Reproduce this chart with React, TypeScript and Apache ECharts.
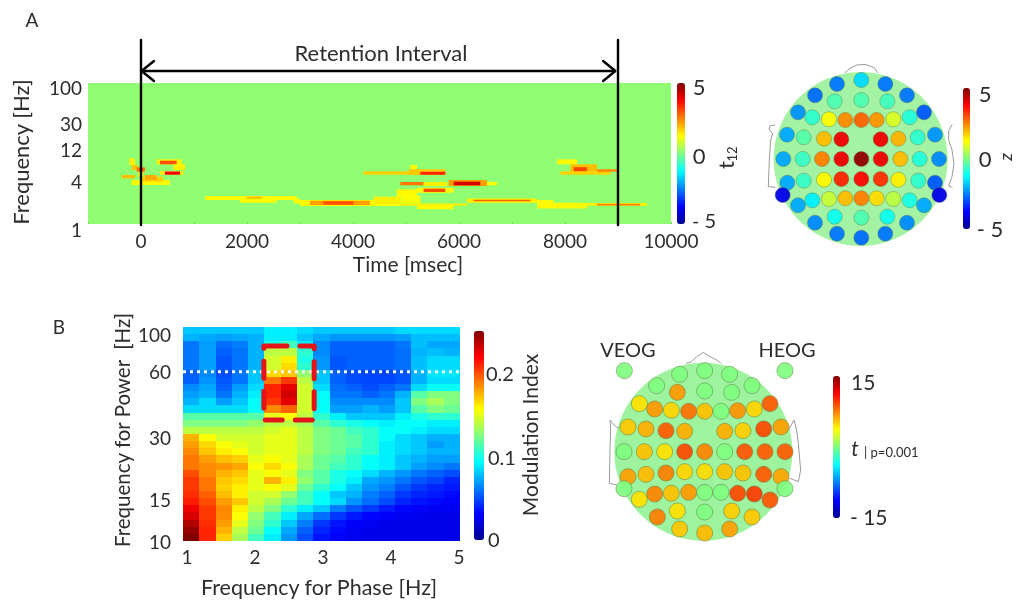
import React, { useEffect, useRef } from "react";
import * as echarts from "echarts";

const FONT = "Lato";
const INK = "#2d2d2d";
const JET = ["#00008f", "#0000ff", "#0080ff", "#00ffff", "#80ff80", "#ffff00", "#ff8000", "#ff0000", "#800000"];

// Panel A: time-frequency clusters [ms start, ms end, Hz low, Hz high, t]
const tfClusters = [
  [-220, -113, 6.88, 8.54, 1.4], [-176, -50, 5.83, 6.88, 1.8], [-365, -113, 4.44, 4.95, 1.9],
  [-176, 547, 3.57, 4.21, 1.3], [-19, 421, 3.99, 4.69, 1.7], [75, 296, 4.21, 4.95, 2.1], [-50, 44, 4.69, 5.52, 1.3],
  [-82, 75, 5.52, 6.36, 2.6], [-30, 30, 5.6, 6.2, 3.7],
  [296, 767, 7.02, 8.27, 1.4], [358, 673, 7.02, 7.9, 3.0], [610, 830, 5.83, 7.1, 1.4], [358, 799, 4.99, 5.6, 1.5], [453, 736, 5.0, 5.55, 3.9],
  [1208, 2937, 2.19, 2.5, 1.3], [1868, 2560, 2.0, 2.5, 1.3], [1994, 2277, 2.3, 2.44, 2.0], [2875, 3000, 1.96, 2.3, 1.3],
  [3000, 4887, 1.8, 2.19, 1.3], [3189, 4321, 1.86, 2.14, 2.2], [3441, 4007, 1.88, 2.1, 3.0], [4384, 4887, 1.96, 2.44, 1.4],
  [4824, 5207, 2.44, 3.1, 1.3], [4887, 6151, 1.82, 1.96, 1.4], [4893, 5270, 1.96, 2.5, 1.2],
  [5207, 5899, 2.78, 3.28, 1.3], [5333, 5742, 2.84, 3.17, 3.0], [5207, 5899, 1.62, 1.85, 1.3],
  [4195, 5742, 4.99, 5.6, 1.7], [5050, 5742, 4.95, 6.0, 1.8], [5081, 5207, 6.0, 6.88, 1.3], [5270, 5742, 4.99, 5.5, 3.4],
  [4893, 5333, 3.54, 3.94, 2.6], [5333, 5773, 3.46, 3.94, 1.4], [5805, 6528, 3.46, 4.2, 2.2], [5899, 6402, 3.54, 3.99, 4.1], [6528, 6717, 3.54, 3.94, 1.3],
  [6151, 7472, 2.0, 2.3, 1.4], [6276, 7346, 2.1, 2.2, 2.8],
  [7472, 8415, 1.66, 2.0, 1.3], [7472, 7786, 2.0, 2.19, 1.3], [8415, 9547, 1.82, 1.98, 1.4], [8604, 9421, 1.83, 1.93, 2.5],
  [7849, 8226, 7.02, 8.27, 1.3], [8101, 8604, 5.52, 7.02, 1.9], [8163, 8415, 5.52, 6.4, 3.1], [7912, 8855, 4.99, 5.6, 1.7], [8604, 8981, 5.5, 6.0, 2.4],
];

const aFreqTickPositions = [0, 0.602, 1.05, 1.42, 1.93];
const aFreqTickLabels = ["{low|1}", "4", "12", "30", "100"];
const aTimeTicks = [0, 2000, 4000, 6000, 8000, 10000];
const retentionBounds = [0, 9000];

// Sensors of the first head [layout x, layout y, z]
const sensorsA = [
  [261, 72, -2.6], [334, 60, -1.6], [406, 72, -2.6],
  [195, 106, -2.7], [254, 124, -0.5], [334, 120, -0.5], [412, 124, -0.6], [471, 106, -2.6],
  [144, 157, -2.3], [187, 172, -0.8], [237, 178, 1.2], [286, 180, 2.4], [334, 180, 2.8], [380, 180, 2.3], [430, 178, 0.9], [479, 172, -0.9], [522, 157, -2.9],
  [111, 224, -2.1], [161, 232, -0.4], [222, 236, 1.9], [274, 238, 3.9], [392, 238, 3.9], [445, 236, 2.0], [503, 232, -0.8], [555, 224, -2.3],
  [100, 297, -2.1], [158, 297, -0.7], [216, 297, 2.5], [274, 297, 3.9], [334, 297, 4.8], [392, 297, 3.9], [451, 297, 1.9], [509, 297, -0.9], [567, 297, -2.4],
  [112, 368, -2.1], [161, 362, -0.7], [222, 359, 1.3], [274, 357, 3.4], [334, 357, 3.7], [392, 357, 3.3], [445, 359, 1.4], [505, 362, -0.8], [555, 368, -2.9],
  [98, 405, -4.0], [568, 405, -4.0],
  [144, 436, -2.1], [187, 421, -1.4], [237, 417, 0.7], [286, 415, 1.9], [334, 415, 2.5], [380, 415, 1.6], [430, 417, 0.6], [479, 421, -1.0], [522, 436, -2.1],
  [195, 488, -2.4], [254, 470, -1.1], [334, 473, -0.5], [412, 470, -1.1], [471, 488, -2.4],
  [261, 521, -2.6], [334, 533, -2.7], [406, 521, -2.6],
];
const noseA = [[285, 38], [300, 25], [320, 15], [345, 13], [360, 18], [375, 25], [382, 38]];
const leftEarA = [[75, 195], [60, 197], [57, 207], [68, 222], [62, 240], [58, 300], [55, 380], [75, 382]];
const rightEarA = [[606, 195], [596, 212], [596, 240], [606, 270], [612, 310], [606, 350], [596, 378], [606, 382]];

// Panel B: modulation index, rows from the highest power frequency, columns from phase 1 Hz to 5 Hz
const modulationRows = [
  [.08, .08, .08, .08, .08, .09, .09, .085, .08, .08, .08, .08, .08, .085, .085, .085, .085],
  [.075, .072, .07, .072, .075, .09, .09, .08, .072, .068, .068, .068, .068, .07, .078, .078, .078],
  [.06, .07, .058, .062, .075, .1, .11, .09, .065, .055, .055, .055, .055, .06, .078, .072, .072],
  [.06, .07, .055, .06, .075, .14, .14, .105, .065, .055, .055, .055, .055, .058, .075, .078, .075],
  [.06, .07, .052, .06, .075, .145, .16, .1, .068, .052, .055, .055, .055, .058, .078, .085, .085],
  [.06, .07, .052, .06, .075, .145, .165, .105, .068, .052, .055, .055, .055, .058, .078, .085, .085],
  [.055, .065, .05, .06, .08, .165, .17, .13, .08, .055, .05, .048, .048, .052, .075, .088, .088],
  [.055, .068, .052, .06, .08, .19, .205, .14, .08, .055, .05, .048, .048, .052, .075, .085, .085],
  [.065, .072, .055, .07, .085, .21, .225, .145, .085, .058, .055, .05, .055, .06, .085, .095, .095],
  [.07, .075, .06, .075, .09, .21, .23, .145, .095, .06, .06, .055, .06, .075, .115, .125, .125],
  [.075, .085, .07, .08, .095, .205, .225, .145, .095, .065, .065, .065, .065, .08, .125, .135, .125],
  [.085, .085, .085, .085, .095, .185, .195, .145, .095, .07, .07, .075, .07, .08, .115, .125, .12],
  [.115, .115, .115, .115, .115, .15, .155, .14, .105, .09, .08, .08, .08, .09, .1, .105, .105],
  [.125, .125, .125, .125, .13, .14, .14, .135, .115, .105, .1, .095, .09, .095, .095, .09, .09],
  [.14, .14, .14, .14, .14, .145, .15, .14, .125, .12, .11, .105, .095, .095, .09, .085, .085],
  [.175, .155, .145, .145, .145, .15, .15, .14, .125, .12, .115, .105, .095, .085, .08, .075, .075],
  [.18, .165, .155, .15, .145, .15, .15, .14, .125, .12, .115, .105, .09, .085, .08, .07, .075],
  [.185, .17, .16, .155, .145, .15, .15, .14, .125, .12, .11, .105, .09, .085, .08, .075, .075],
  [.19, .18, .172, .168, .15, .155, .15, .135, .12, .115, .105, .095, .09, .08, .075, .07, .07],
  [.19, .185, .182, .178, .155, .165, .155, .135, .12, .11, .105, .095, .09, .08, .07, .065, .06],
  [.2, .185, .175, .17, .15, .155, .15, .125, .115, .1, .095, .085, .075, .068, .06, .055, .05],
  [.205, .19, .17, .165, .15, .175, .16, .13, .115, .1, .09, .072, .068, .06, .052, .048, .04],
  [.205, .19, .168, .16, .15, .155, .15, .12, .105, .095, .08, .068, .062, .052, .045, .04, .037],
  [.208, .195, .172, .16, .145, .145, .13, .11, .095, .08, .075, .062, .055, .045, .04, .037, .033],
  [.212, .2, .18, .17, .145, .135, .12, .11, .095, .085, .068, .058, .05, .04, .036, .033, .03],
  [.222, .205, .185, .16, .14, .125, .105, .09, .08, .062, .052, .045, .037, .032, .03, .028, .027],
  [.228, .205, .185, .155, .13, .11, .09, .072, .058, .045, .037, .032, .03, .028, .027, .026, .025],
  [.238, .208, .18, .15, .125, .105, .08, .062, .045, .036, .03, .028, .026, .025, .025, .025, .025],
  [.245, .21, .175, .14, .12, .095, .072, .055, .04, .033, .028, .026, .025, .025, .025, .025, .025],
  [.25, .21, .168, .135, .11, .09, .068, .05, .036, .03, .027, .025, .025, .025, .025, .025, .025],
];
const phaseTicks = [1, 2, 3, 4, 5];
const powerTickPositions = [1, 1.193, 1.477, 1.778, 1.947];
const powerTickLabels = ["10", "15", "30", "60", "100"];
const highlightedPower = 60;
const boxPhase = [2.13, 2.87];
const boxPower = [36, 78.7];

// Sensors of the second head [layout x, layout y, t]
const sensorsB = [
  [103, 122, 0], [585, 122, 0],
  [269, 133, 0], [344, 122, 0], [419, 133, 0],
  [200, 167, 0], [262, 187, 6.8], [344, 183, 0], [425, 187, 0], [486, 167, 0],
  [148, 221, 4.6], [194, 237, 6.8], [244, 241, 5.0], [296, 244, 8.0], [344, 244, 5.6], [393, 244, 0], [443, 242, 7.0], [493, 237, 5.0], [540, 221, 8.6],
  [114, 291, 5.4], [168, 297, 6.2], [228, 302, 8.6], [284, 304, 6.2], [404, 304, 6.2], [459, 302, 5.2], [521, 297, 9.2], [573, 291, 6.6],
  [102, 365, 0], [163, 365, 5.6], [224, 365, 4.6], [284, 365, 9.2], [344, 365, 7.4], [404, 365, 0], [464, 365, 8.8], [525, 365, 8.6], [585, 365, 8.6],
  [114, 440, 6.6], [168, 433, 5.8], [228, 429, 7.6], [284, 425, 5.0], [344, 425, 4.8], [404, 425, 5.6], [459, 429, 5.6], [521, 433, 8.6], [573, 440, 6.4],
  [102, 476, 0], [585, 476, 0],
  [148, 508, 4.6], [194, 492, 7.4], [244, 490, 5.6], [296, 487, 6.8], [344, 487, 0], [393, 487, 0], [443, 490, 9.2], [493, 492, 9.6], [540, 510, 8.8],
  [202, 561, 7.6], [262, 543, 4.6], [344, 546, 0], [425, 543, 5.2], [486, 561, 5.4],
  [269, 597, 5.4], [344, 609, 5.8], [419, 597, 6.6],
];
const noseB = [[290, 100], [305, 95], [320, 80], [340, 67], [360, 80], [380, 90], [393, 100]];
const leftEarB = [[85, 295], [72, 285], [60, 270], [62, 300], [60, 360], [58, 460], [80, 465]];
const rightEarB = [[598, 295], [612, 270], [620, 300], [625, 340], [632, 420], [625, 455], [600, 445]];

const txt = (text: string, x: number, y: number, size = 18, extra: any = {}, rotation = 0) => ({
  type: "text",
  x,
  y,
  rotation,
  z: 20,
  style: {
    text,
    fontFamily: FONT,
    fontSize: size,
    fill: INK,
    textAlign: extra.align ?? "center",
    textVerticalAlign: "middle",
    fontStyle: extra.italic ? "italic" : "normal",
  },
});

const bar = (min: number, max: number, left: number, top: number, w: number, h: number, seriesIndex: number, dimension: number) => ({
  type: "continuous",
  min,
  max,
  left,
  top,
  itemWidth: w,
  itemHeight: h,
  padding: 0,
  seriesIndex,
  dimension,
  calculable: false,
  inRange: { color: JET },
});

const hiddenAxis = (gridIndex: number, min: number, max: number, inverse = false) => ({
  type: "value",
  gridIndex,
  min,
  max,
  inverse,
  show: false,
});

const path = (data: number[][], x: number, y: number, color: string, width: number, extra: any = {}) => ({
  type: "line",
  xAxisIndex: x,
  yAxisIndex: y,
  data,
  symbol: "none",
  silent: true,
  clip: false,
  z: extra.z ?? 4,
  lineStyle: { color, width, cap: extra.cap ?? "round", join: "round", type: extra.dash ?? "solid", opacity: 1 },
});

const labelStyle = { color: INK, fontFamily: FONT, fontSize: 19 };

export default function App() {
  const ref = useRef<HTMLDivElement>(null);
  useEffect(() => {
    const chart = echarts.init(ref.current!, undefined, { renderer: "svg" });
    const XMIN = 0.941, XMAX = 5.015, YMIN = 1, YMAX = 1.9835;
    const rows = modulationRows.length, cols = modulationRows[0].length;
    const heat: number[][] = [];
    modulationRows.forEach((row, r) => row.forEach((v, c) => heat.push([c, rows - 1 - r, v])));

    const box = [
      [2.22, boxPower[1]], [boxPhase[1], boxPower[1]], [boxPhase[1], boxPower[0]],
      [boxPhase[0], boxPower[0]], [boxPhase[0], boxPower[1]], [2.22, boxPower[1]],
    ].map(([p, f]) => [p, Math.log10(f)]);

    const arm = 245;
    const ARROW_Y = 31;
    const series: any[] = [
      {
        type: "custom",
        xAxisIndex: 0,
        yAxisIndex: 0,
        data: tfClusters,
        encode: { x: [0, 1], y: [2, 3] },
        silent: true,
        clip: true,
        renderItem: (_: any, api: any) => {
          const a = api.coord([api.value(0), Math.log10(api.value(3))]);
          const b = api.coord([api.value(1), Math.log10(api.value(2))]);
          return { type: "rect", shape: { x: a[0], y: a[1], width: b[0] - a[0], height: b[1] - a[1] }, style: { fill: api.visual("color") } };
        },
      },
      {
        type: "custom",
        xAxisIndex: 1,
        yAxisIndex: 1,
        data: heat,
        silent: true,
        encode: { x: 0, y: 1 },
        renderItem: (_: any, api: any) => {
          const w = (XMAX - XMIN) / cols, h = (YMAX - YMIN) / rows;
          const c = api.value(0), r = api.value(1);
          const a = api.coord([XMIN + c * w, YMIN + (r + 1) * h]);
          const b = api.coord([XMIN + (c + 1) * w, YMIN + r * h]);
          const x0 = Math.round(a[0]), y0 = Math.round(a[1]);
          return { type: "rect", shape: { x: x0, y: y0, width: Math.round(b[0]) - x0, height: Math.round(b[1]) - y0 }, style: { fill: api.visual("color") } };
        },
      },
      { type: "scatter", xAxisIndex: 3, yAxisIndex: 3, data: [[332, 297]], symbolSize: 174, itemStyle: { color: "#8df08d" }, silent: true, z: 1 },
      { type: "scatter", xAxisIndex: 4, yAxisIndex: 4, data: [[340, 365]], symbolSize: 178, itemStyle: { color: "#86f086" }, silent: true, z: 1 },
      {
        type: "scatter", xAxisIndex: 3, yAxisIndex: 3, data: sensorsA, symbolSize: 15, silent: true, z: 3,
        itemStyle: { borderColor: "rgba(95,120,70,0.45)", borderWidth: 1, opacity: 0.95 },
      },
      {
        type: "scatter", xAxisIndex: 4, yAxisIndex: 4, data: sensorsB, symbolSize: 16, silent: true, z: 3,
        itemStyle: { borderColor: "rgba(95,120,70,0.55)", borderWidth: 1, opacity: 0.92 },
      },
      path(noseA, 3, 3, "#9a9a9a", 1), path(leftEarA, 3, 3, "#9a9a9a", 1), path(rightEarA, 3, 3, "#9a9a9a", 1),
      path(noseB, 4, 4, "#9a9a9a", 1), path(leftEarB, 4, 4, "#9a9a9a", 1), path(rightEarB, 4, 4, "#9a9a9a", 1),
      ...retentionBounds.map((t) => path([[t, 0], [t, 185]], 2, 2, "#000", 2.4, { z: 6 })),
      path([[retentionBounds[0], ARROW_Y], [retentionBounds[1] - 60, ARROW_Y]], 2, 2, "#000", 2.4, { z: 6 }),
      path([[arm, ARROW_Y - 10], [10, ARROW_Y], [arm, ARROW_Y + 10]], 2, 2, "#000", 2.4, { z: 6 }),
      path([[retentionBounds[1] - 280, ARROW_Y - 10], [retentionBounds[1] - 50, ARROW_Y], [retentionBounds[1] - 280, ARROW_Y + 10]], 2, 2, "#000", 2.4, { z: 6 }),
      path([[XMIN, Math.log10(highlightedPower)], [XMAX, Math.log10(highlightedPower)]], 1, 1, "#eefcff", 3, { z: 6, dash: [3, 4], cap: "butt" }),
      path(box, 1, 1, "#e3141a", 5, { z: 7, dash: [17, 13] }),
    ];

    chart.setOption({
      animation: false,
      grid: [
        { left: 88, top: 83, width: 583, height: 141, show: true, backgroundColor: "#8ffe72", borderWidth: 0 },
        { left: 183, top: 327, width: 277, height: 214 },
        { left: 88, top: 40, width: 583, height: 185 },
        { left: 750, top: 60, width: 266, height: 200 },
        { left: 590, top: 330, width: 240, height: 230 },
      ],
      xAxis: [
        {
          type: "value", gridIndex: 0, min: -1000, max: 10000,
          axisLine: { show: false }, splitLine: { show: false },
          axisTick: { show: true, inside: true, length: 2, customValues: [-1000, 0, 1000, 2000, 3000, 4000, 5000, 6000, 7000, 8000, 9000, 10000], lineStyle: { color: "#78d65e" } },
          axisLabel: { ...labelStyle, margin: 7, customValues: aTimeTicks, formatter: (v: number) => String(v) },
        },
        {
          type: "value", gridIndex: 1, min: XMIN, max: XMAX,
          axisLine: { show: false }, splitLine: { show: false }, axisTick: { show: false },
          axisLabel: { ...labelStyle, margin: 6, customValues: phaseTicks, formatter: (v: number) => String(v) },
        },
        hiddenAxis(2, -1000, 10000),
        hiddenAxis(3, 0, 798),
        hiddenAxis(4, 0, 720),
      ],
      yAxis: [
        {
          type: "value", gridIndex: 0, min: 0, max: 2,
          axisLine: { show: false }, splitLine: { show: false }, axisTick: { show: false },
          axisLabel: {
            ...labelStyle, margin: 6, customValues: aFreqTickPositions,
            formatter: (v: number) => aFreqTickLabels[aFreqTickPositions.indexOf(v)],
            rich: { low: { ...labelStyle, padding: [10, 0, 0, 0] } },
          },
        },
        {
          type: "value", gridIndex: 1, min: YMIN, max: YMAX,
          axisLine: { show: false }, splitLine: { show: false }, axisTick: { show: false },
          axisLabel: {
            ...labelStyle, margin: 12, customValues: powerTickPositions,
            formatter: (v: number) => powerTickLabels[powerTickPositions.indexOf(v)],
          },
        },
        hiddenAxis(2, 0, 185, true),
        hiddenAxis(3, 0, 600, true),
        hiddenAxis(4, 0, 690, true),
      ],
      visualMap: [
        bar(-5, 5, 677, 83, 8, 141, 0, 4),
        bar(0, 0.25, 474, 331, 10, 209, 1, 2),
        bar(-5, 5, 963, 88, 7, 141, 4, 2),
        bar(-15, 15, 833, 376, 7, 142, 5, 2),
      ],
      series,
      graphic: {
        elements: [
          txt("A", 32, 19, 19),
          txt("B", 59, 326, 19),
          txt("Retention Interval", 381, 52, 22),
          txt("Frequency [Hz]", 20, 152, 22, {}, Math.PI / 2),
          txt("Time [msec]", 408, 263, 21),
          txt("5", 699, 86, 22),
          txt("0", 699, 155, 22),
          txt("- 5", 704, 220, 20),
          txt("t", 725, 165, 22, {}, Math.PI / 2),
          txt("12", 732, 154, 13, {}, Math.PI / 2),
          txt("5", 985, 93, 22),
          txt("0", 985, 158, 22),
          txt("- 5", 990, 228, 22),
          txt("z", 1005, 157, 18, { italic: true }, Math.PI / 2),
          txt("Frequency for Power  [Hz]", 122, 430, 20.5, {}, Math.PI / 2),
          txt("Frequency for Phase [Hz]", 319, 587, 21.5),
          txt("0.2", 486, 373, 20, { align: "left" }),
          txt("0.1", 488, 457, 20, { align: "left" }),
          txt("0", 488, 539, 20, { align: "left" }),
          txt("Modulation Index", 529, 435, 21, {}, Math.PI / 2),
          txt("VEOG", 628, 349, 20),
          txt("HEOG", 787, 349, 20),
          txt("15", 851, 381, 21, { align: "left" }),
          txt("- 15", 850, 516, 21, { align: "left" }),
          txt("t", 855, 447, 21, { italic: true }),
          txt("| p=0.001", 864, 452, 13, { align: "left" }),
        ],
      },
    });
    return () => chart.dispose();
  }, []);
  return <div ref={ref} style={{ position: "absolute", left: 0, top: 0, width: 1016, height: 603, filter: "blur(0.5px)" }} />;
}
